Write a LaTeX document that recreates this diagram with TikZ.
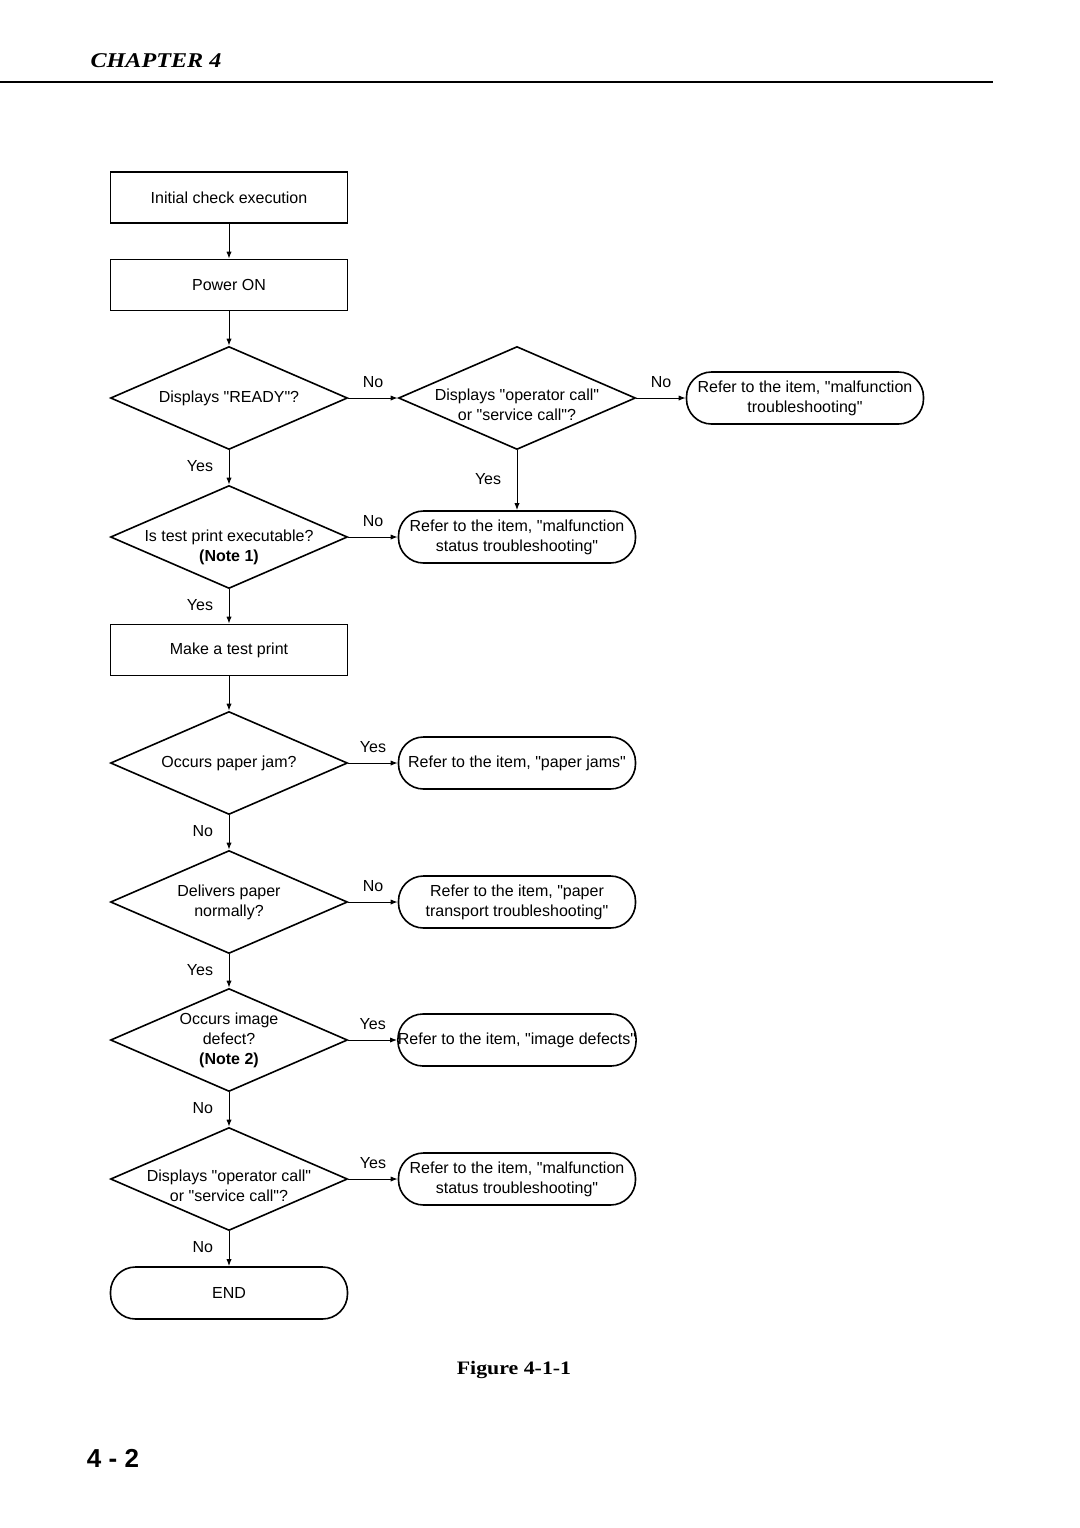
\documentclass[tikz,border=0pt]{standalone}
\usepackage{fontspec}
\setsansfont{Liberation Sans}[Ligatures=TeXOff]
\newfontfamily\headfont{Liberation Serif}[FakeStretch=1.15]
\usepackage{tikz}
\usetikzlibrary{shapes.geometric}
\usetikzlibrary{arrows.meta,positioning}
\newcommand\dtext[1]{\makebox[0pt]{\begin{tabular}{@{}c@{}}#1\end{tabular}}}

\begin{document}
\begin{tikzpicture}[x=.5pt,y=-.5pt,
        every node/.style={font=\sffamily\fontsize{8}{10}\selectfont},
        box/.style={draw,rectangle,line width=.8pt,minimum width=118.5pt,minimum height=25.5pt,inner sep=0pt},
        term/.style={draw,rectangle,line width=.8pt,rounded corners=12.5pt,minimum width=118.5pt,minimum height=26pt,inner sep=0pt,align=center},
        dia/.style={draw,diamond,line width=.8pt,minimum width=118.5pt,minimum height=51.5pt,inner sep=0pt},
        flow/.style={line width=.5pt,-{Latex[length=3.5pt,width=2.6pt]}},
        lbl/.style={inner sep=0pt,text height=5.8pt,text depth=1.7pt}]%
        \useasboundingbox (0,0) rectangle (1080,1528);%%
        %% page header
        \node[font=\headfont\bfseries\itshape\fontsize{10.5}{12}\selectfont] (chap) at (156,61) {CHAPTER 4}; %%
        \draw[line width=1pt] (0,82)--(993,82); %%
        %% main column
        \node[box] (init) at (229,197.5) {Initial check execution}; %%
        \node[box] (pwr) at (229,285) {Power ON}; %%
        \node[dia] (ready) at (229,398) {\dtext{Displays "READY"?}}; %%
        \node[dia] (tprint) at (229,537) {\dtext{\\Is test print executable?\\\textbf{(Note 1)}}}; %%
        \node[box] (mkprint) at (229,650) {Make a test print}; %%
        \node[dia] (jam) at (229,763) {\dtext{Occurs paper jam?}}; %%
        \node[dia] (deliv) at (229,902) {\dtext{Delivers paper\\normally?}}; %%
        \node[dia] (imgdef) at (229,1040) {\dtext{Occurs image\\defect?\\\textbf{(Note 2)}}}; %%
        \node[dia] (call2) at (229,1179) {\dtext{\\[-2pt]Displays "operator call"\\or "service call"?}}; %%
        \node[term] (end) at (229,1293) {END}; %%
        %% right column
        \node[dia] (call1) at (517,398) {\dtext{\\[-2pt]Displays "operator call"\\or "service call"?}}; %%
        \node[term] (malf) at (805,398) {Refer to the item, "malfunction\\troubleshooting"}; %%
        \node[term] (stat1) at (517,537) {Refer to the item, "malfunction\\status troubleshooting"}; %%
        \node[term] (pjam) at (517,763) {Refer to the item, "paper jams"}; %%
        \node[term] (ptrans) at (517,902) {Refer to the item, "paper\\transport troubleshooting"}; %%
        \node[term] (idef) at (517,1040) {Refer to the item, "image defects"}; %%
        \node[term] (stat2) at (517,1179) {Refer to the item, "malfunction\\status troubleshooting"}; %%
        %% connectors
        \draw[flow] (init)--(pwr); %%
        \draw[flow] (pwr)--(ready); %%
        \draw[flow] (ready.east)--node[lbl,above=3.4pt] {No} (call1.west); %%
        \draw[flow] (call1.east)--node[lbl,above=3.4pt] {No} (malf.west); %%
        \draw[flow] (ready.south)--node[lbl,left=7.7pt] {Yes} (tprint.north); %%
        \draw[flow] (call1.south)--node[lbl,left=7.7pt] {Yes} (stat1.north); %%
        \draw[flow] (tprint.east)--node[lbl,above=3.4pt] {No} (stat1.west); %%
        \draw[flow] (tprint.south)--node[lbl,left=7.7pt] {Yes} (mkprint.north); %%
        \draw[flow] (mkprint)--(jam.north); %%
        \draw[flow] (jam.east)--node[lbl,above=3.4pt] {Yes} (pjam.west); %%
        \draw[flow] (jam.south)--node[lbl,left=7.7pt] {No} (deliv.north); %%
        \draw[flow] (deliv.east)--node[lbl,above=3.4pt] {No} (ptrans.west); %%
        \draw[flow] (deliv.south)--node[lbl,left=7.7pt] {Yes} (imgdef.north); %%
        \draw[flow] (imgdef.east)--node[lbl,above=3.4pt] {Yes} (idef.west); %%
        \draw[flow] (imgdef.south)--node[lbl,left=7.7pt] {No} (call2.north); %%
        \draw[flow] (call2.east)--node[lbl,above=3.4pt] {Yes} (stat2.west); %%
        \draw[flow] (call2.south)--node[lbl,left=7.7pt] {No} (end.north); %%
        %% caption and page number
        \node[font=\headfont\bfseries\fontsize{9.5}{11}\selectfont] (fig) at (514,1370) {Figure 4-1-1}; %%
        \node[font=\sffamily\bfseries\fontsize{13}{15}\selectfont] (pgno) at (113,1458) {4 - 2}; %%
\end{tikzpicture}
\end{document}
